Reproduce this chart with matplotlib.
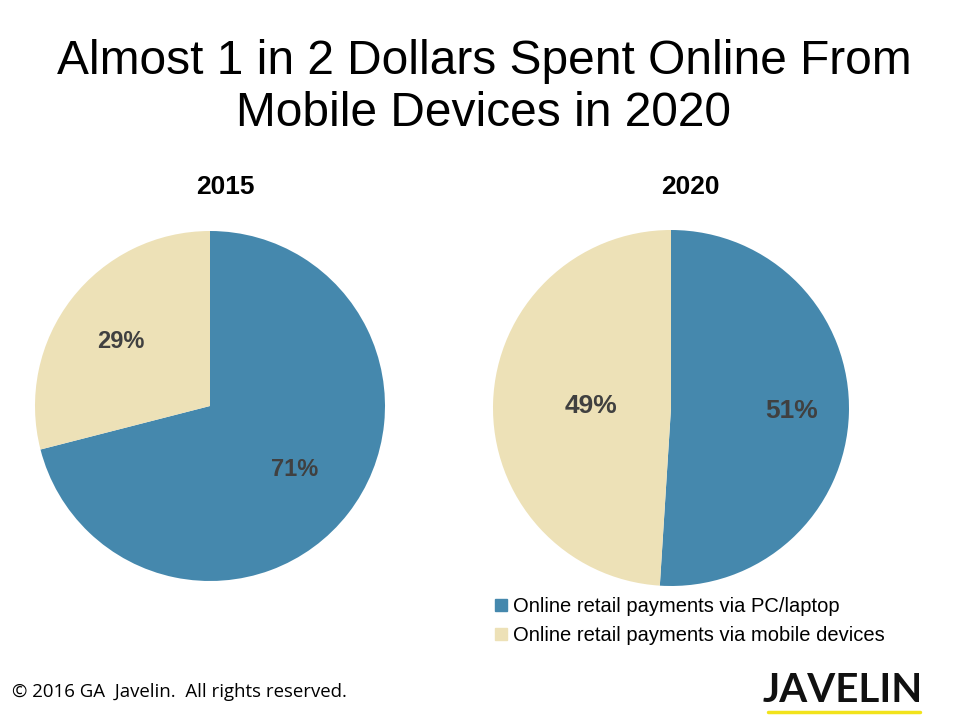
import matplotlib
matplotlib.use('Agg')
import matplotlib.pyplot as plt
from matplotlib.lines import Line2D

# data
years = ['2015', '2020']
pc_share = [71, 51]
mobile_share = [29, 49]
legend_labels = ['Online retail payments via PC/laptop',
                 'Online retail payments via mobile devices']
title = 'Almost 1 in 2 Dollars Spent Online From\nMobile Devices in 2020'

blue = '#4588AD'
cream = '#EDE1B7'
plt.rcParams['font.family'] = ['Liberation Sans', 'DejaVu Sans']

W, H = 960, 720
fig = plt.figure(figsize=(9.6, 7.2), dpi=100)

def px_axes(cx, cy, r):
    return fig.add_axes([(cx - r) / W, 1 - (cy + r) / H, 2 * r / W, 2 * r / H])

# pie positions in pixels (centre x, centre y, radius)
geo = [(210, 406, 175), (671, 408, 178)]
label_pos = [((295, 469), (121, 342)), ((792, 411), (591, 406))]
label_size = [17, 19]
year_pos = [(225, 187), (690, 187)]

for i in range(2):
    cx, cy, r = geo[i]
    ax = px_axes(cx, cy, r)
    ax.pie([pc_share[i], mobile_share[i]], colors=[blue, cream],
           startangle=90, counterclock=False, radius=1,
           wedgeprops={'linewidth': 0})
    ax.set_xlim(-1, 1)
    ax.set_ylim(-1, 1)
    ax.set_aspect('auto')
    ax.axis('off')
    vals = [pc_share[i], mobile_share[i]]
    for (lx, ly), v in zip(label_pos[i], vals):
        fig.text(lx / W, 1 - ly / H, f'{v}%', ha='center', va='center',
                 fontsize=label_size[i], fontweight='bold', color='#404040')
    fig.text(year_pos[i][0] / W, 1 - year_pos[i][1] / H, years[i],
             ha='center', va='center', fontsize=19, fontweight='bold')

fig.text(484 / W, 1 - 88 / H, title, ha='center', va='center',
         fontsize=34.5, linespacing=1.2)

# legend
handles = [Line2D([], [], marker='s', linestyle='none', markersize=8,
                  markerfacecolor=c, markeredgecolor=c) for c in [blue, cream]]
fig.legend(handles, legend_labels, loc='upper left',
           bbox_to_anchor=(484 / W, 1 - 589 / H), frameon=False,
           fontsize=14.5, handletextpad=0.15, labelspacing=0.48,
           handlelength=0.9, borderaxespad=0)

# footer
fig.text(12 / W, 1 - 692 / H, '\u00a9 2016 GA  Javelin.  All rights reserved.',
         ha='left', va='center', fontsize=13.4, family=['Open Sans', 'DejaVu Sans'])
fig.text(843 / W, 1 - 691 / H, 'JAVELIN', ha='center', va='center',
         fontsize=29, fontweight='bold', family=['Lato', 'DejaVu Sans'],
         color='#111111')
fig.add_artist(Line2D([768 / W, 920 / W], [1 - 712 / H, 1 - 712 / H],
                      color='#F2E31B', linewidth=2.5, solid_capstyle='round'))

fig.savefig('out.png', dpi=100)
